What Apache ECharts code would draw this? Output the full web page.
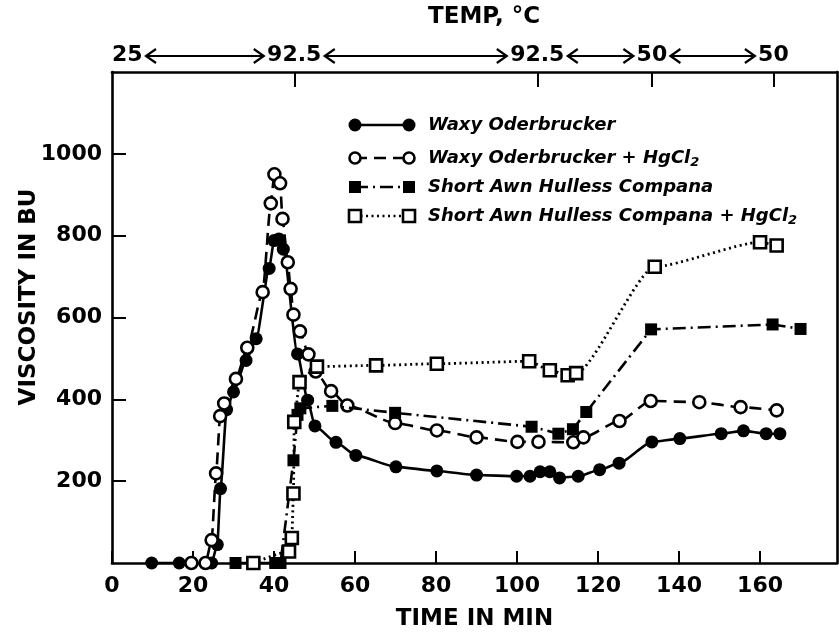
<!DOCTYPE html>
<html lang="en">
<head>
<meta charset="UTF-8">
<title>Viscosity curves</title>
<script src="https://cdn.jsdelivr.net/npm/echarts@6/dist/echarts.min.js"></script>
<style>
  html, body { margin: 0; background: #fff; }
  #main { width: 839px; height: 633px; }
</style>
</head>
<body>
<div id="main"></div>
<script>
// values: time in min, viscosity in BU
const waxyT = [9.8, 16.6, 24.6, 26.0, 26.8, 28.3, 30.0, 33.1, 35.6, 38.8, 40.0, 41.2, 42.3, 45.8, 48.3, 50.1, 55.3, 60.2, 70.1, 80.2, 90.0, 99.9, 103.2, 105.7, 108.1, 110.5, 115.1, 120.4, 125.2, 133.3, 140.2, 150.4, 155.9, 161.5, 164.9];
const waxyV = [0, 0, 0, 45, 182, 375, 418, 495, 548, 720, 788, 792, 767, 511, 398, 335, 295, 263, 235, 225, 215, 212, 212, 223, 223, 208, 212, 228, 244, 296, 304, 316, 323, 316, 316];

const waxyHgT = [19.6, 23.1, 24.6, 25.7, 26.7, 27.7, 30.6, 33.4, 37.2, 39.2, 40.1, 41.5, 42.1, 43.4, 44.1, 44.8, 46.4, 48.5, 50.3, 54.1, 58.1, 69.9, 80.2, 90.0, 100.1, 105.3, 113.9, 116.4, 125.3, 133.0, 145.0, 155.2, 164.1];
const waxyHgV = [0, 0, 56, 219, 359, 390, 450, 526, 662, 879, 950, 928, 841, 735, 670, 607, 566, 510, 468, 420, 385, 342, 324, 307, 296, 296, 295, 307, 347, 396, 393, 381, 373];

const awnT = [30.5, 40.3, 41.6, 44.8, 45.8, 46.5, 54.4, 69.9, 103.6, 110.2, 113.8, 117.1, 133.1, 163.1, 170.0];
const awnV = [0, 0, 0, 251, 362, 378, 384, 367, 333, 316, 327, 369, 571, 583, 572];

const awnHgT = [34.9, 43.7, 44.4, 44.8, 45.0, 46.3, 50.6, 65.2, 80.2, 103.0, 108.1, 112.5, 114.6, 134.0, 160.0, 164.1];
const awnHgV = [0, 28, 61, 170, 345, 442, 480, 483, 487, 493, 471, 459, 464, 724, 784, 776];

const timeTicks = [0, 20, 40, 60, 80, 100, 120, 140, 160];
const viscTicks = [200, 400, 600, 800, 1000];
const tempAt = [0, 45, 105, 133.3, 163.3];
const tempLabels = ['25', '92.5', '92.5', '50', '50'];

const FONT = 'DejaVu Sans';
const black = '#000';

function pairs(t, v) { return t.map((x, i) => [x, v[i]]); }

const seriesNames = [
  'Waxy Oderbrucker',
  'Waxy Oderbrucker + HgCl{s|2}',
  'Short Awn Hulless Compana',
  'Short Awn Hulless Compana + HgCl{s|2}'
];
const dashes = ['solid', [12, 7], [13, 5, 2, 5], [2, 3.5]];
const filled = [true, false, true, false];
const shapes = ['circle', 'circle', 'rect', 'rect'];

const chart = echarts.init(document.getElementById('main'));

function mkSeries(i, data) {
  return {
    name: seriesNames[i].replace('{s|2}', '2'),
    type: 'line',
    data: data,
    symbol: shapes[i],
    symbolSize: shapes[i] === 'circle' ? (filled[i] ? 13 : 12) : 12,
    smooth: i === 2 ? false : 0.2,
    smoothMonotone: 'x',
    itemStyle: filled[i]
      ? { color: black }
      : { color: '#fff', borderColor: black, borderWidth: 2.6 },
    lineStyle: { color: black, width: i === 3 ? 2.8 : 2.6, type: dashes[i] },
    z: 3 + i
  };
}

// legend drawn by hand: symbol - line - symbol, then italic text
const legendY = [125, 158, 187, 216];
const legendGraphic = [];
legendY.forEach((y, i) => {
  const x0 = 355, x1 = 409;
  legendGraphic.push({
    type: 'line', shape: { x1: x0, y1: y, x2: x1, y2: y },
    style: { stroke: black, lineWidth: 2.6, lineDash: dashes[i] === 'solid' ? null : dashes[i] }
  });
  [x0, x1].forEach(cx => {
    const st = filled[i] ? { fill: black } : { fill: '#fff', stroke: black, lineWidth: 2.6 };
    if (shapes[i] === 'circle') {
      legendGraphic.push({ type: 'circle', shape: { cx: cx, cy: y, r: filled[i] ? 6.5 : 5.5 }, style: st, z: 10 });
    } else {
      legendGraphic.push({ type: 'rect', shape: { x: cx - 6, y: y - 6, width: 12, height: 12 }, style: st, z: 10 });
    }
  });
  legendGraphic.push({
    type: 'text', x: 428, y: y,
    style: {
      text: seriesNames[i], fill: black, fontSize: 18, fontFamily: FONT, fontStyle: 'italic', fontWeight: 'bold',
      verticalAlign: 'middle',
      rich: { s: { fontSize: 13, fontFamily: FONT, fontStyle: 'italic', fontWeight: 'bold', padding: [10, 0, 0, 0] } }
    }
  });
});

const tickFont = { fontSize: 22, fontFamily: FONT, fontWeight: 'bold', color: black };
const nameFont = { fontSize: 23, fontFamily: FONT, fontWeight: 'bold', color: black };
const axLine = { onZero: false, lineStyle: { color: black, width: 2.6 } };

chart.setOption({
  animation: false,
  backgroundColor: '#fff',
  grid: { left: 112, right: 2, top: 72, bottom: 70, outerBoundsMode: 'none', containLabel: false },
  xAxis: [{
    type: 'value', min: 0, max: 179, interval: 20,
    name: 'TIME IN MIN', nameLocation: 'middle', nameGap: 45,
    nameTextStyle: nameFont,
    axisLine: axLine,
    axisTick: { inside: true, length: 12, lineStyle: { color: black, width: 2 }, customValues: timeTicks },
    axisLabel: Object.assign({ margin: 12, customValues: timeTicks }, tickFont),
    splitLine: { show: false }
  }, {
    type: 'value', min: 0, max: 179, position: 'top',
    axisLine: axLine,
    axisTick: { inside: true, length: 15, lineStyle: { color: black, width: 2 }, customValues: tempAt.slice(1) },
    axisLabel: Object.assign({
      margin: 6, customValues: tempAt, alignMinLabel: 'left',
      formatter: v => tempLabels[tempAt.indexOf(v)]
    }, tickFont),
    splitLine: { show: false }
  }],
  yAxis: [{
    type: 'value', min: 0, max: 1200, interval: 200,
    axisLine: Object.assign({ show: true }, axLine),
    axisTick: { show: true, inside: true, length: 14, lineStyle: { color: black, width: 2 }, customValues: viscTicks },
    axisLabel: Object.assign({ margin: 10, customValues: viscTicks, formatter: v => String(v) }, tickFont),
    splitLine: { show: false }
  }, {
    type: 'value', min: 0, max: 1200, position: 'right',
    axisLine: Object.assign({ show: true }, axLine),
    axisTick: { show: false }, axisLabel: { show: false }, splitLine: { show: false }
  }],
  series: [
    mkSeries(0, pairs(waxyT, waxyV)),
    mkSeries(1, pairs(waxyHgT, waxyHgV)),
    mkSeries(2, pairs(awnT, awnV)),
    mkSeries(3, pairs(awnHgT, awnHgV))
  ]
});

// arrows between the temperature labels, placed from the top axis scale
const labelW = { '25': 31, '92.5': 55, '50': 31 };
const arrows = [];
const ay = 56;
for (let i = 0; i < tempAt.length - 1; i++) {
  const pa = chart.convertToPixel({ xAxisIndex: 1 }, tempAt[i]);
  const pb = chart.convertToPixel({ xAxisIndex: 1 }, tempAt[i + 1]);
  const xa = i === 0 ? pa + labelW[tempLabels[i]] + 3 : pa + labelW[tempLabels[i]] / 2 + 3;
  const xb = pb - labelW[tempLabels[i + 1]] / 2 - 3;
  const st = { stroke: black, lineWidth: 2.2, fill: null };
  arrows.push({ type: 'line', shape: { x1: xa, y1: ay, x2: xb, y2: ay }, style: st });
  arrows.push({ type: 'polyline', shape: { points: [[xa + 10, ay - 7], [xa, ay], [xa + 10, ay + 7]] }, style: st });
  arrows.push({ type: 'polyline', shape: { points: [[xb - 10, ay - 7], [xb, ay], [xb - 10, ay + 7]] }, style: st });
}

chart.setOption({
  graphic: [
    { type: 'text', x: 484, y: 17, style: Object.assign({ text: 'TEMP, °C', fill: black, align: 'center', verticalAlign: 'middle' }, nameFont) },
    { type: 'text', x: 29, y: 297, rotation: Math.PI / 2, style: Object.assign({ text: 'VISCOSITY IN BU', fill: black, align: 'center', verticalAlign: 'middle' }, nameFont) }
  ].concat(legendGraphic, arrows)
});
</script>
</body>
</html>
